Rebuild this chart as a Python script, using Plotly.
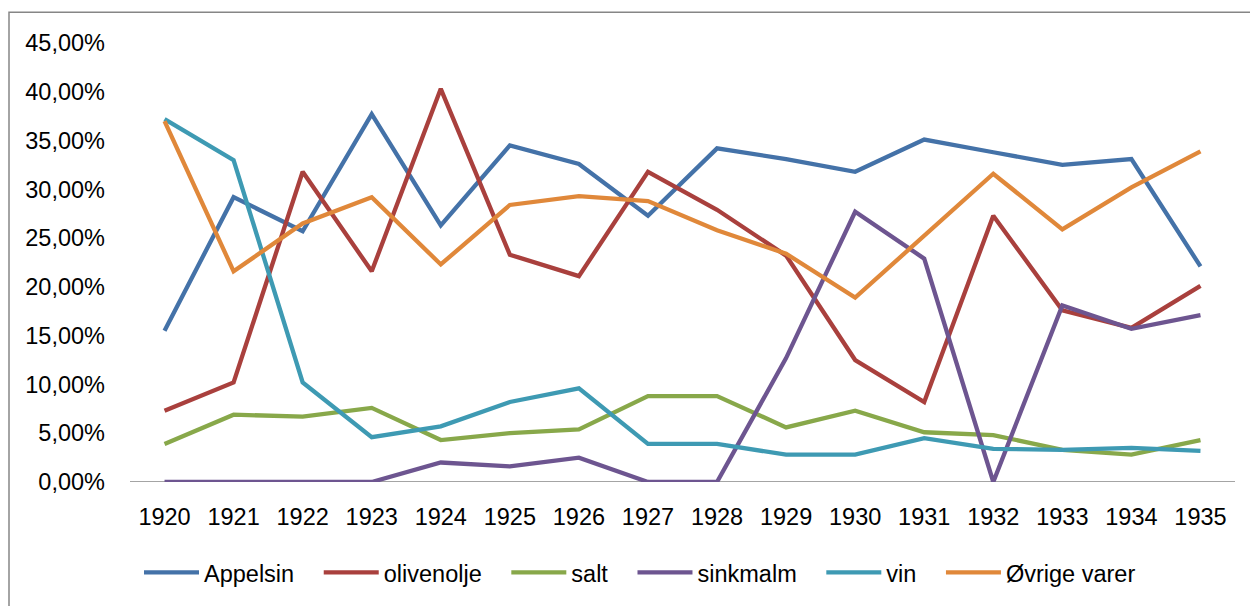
import plotly.graph_objects as go

years = [str(y) for y in range(1920, 1936)]

appelsin = [0.155, 0.292, 0.257, 0.377, 0.263, 0.345, 0.326, 0.273, 0.342, 0.331, 0.318, 0.351, 0.338, 0.325, 0.331, 0.221]
olivenolje = [0.073, 0.102, 0.318, 0.216, 0.403, 0.233, 0.211, 0.318, 0.279, 0.232, 0.125, 0.082, 0.273, 0.176, 0.158, 0.201]
salt = [0.039, 0.069, 0.067, 0.076, 0.043, 0.050, 0.054, 0.088, 0.088, 0.056, 0.073, 0.051, 0.048, 0.033, 0.028, 0.043]
sinkmalm = [0.0, 0.0, 0.0, 0.0, 0.020, 0.016, 0.025, 0.0, 0.0, 0.127, 0.277, 0.229, 0.0, 0.181, 0.157, 0.171]
vin = [0.372, 0.330, 0.102, 0.046, 0.057, 0.082, 0.096, 0.039, 0.039, 0.028, 0.028, 0.045, 0.034, 0.033, 0.035, 0.032]
ovrige = [0.370, 0.216, 0.265, 0.292, 0.223, 0.284, 0.293, 0.288, 0.258, 0.234, 0.189, 0.252, 0.316, 0.259, 0.302, 0.339]

series = [
    ("Appelsin", appelsin, "#4472A8"),
    ("olivenolje", olivenolje, "#A9403D"),
    ("salt", salt, "#88A84A"),
    ("sinkmalm", sinkmalm, "#6D5590"),
    ("vin", vin, "#3E9AB3"),
    ("Øvrige varer", ovrige, "#E0883A"),
]

fig = go.Figure()
for i, (name, vals, col) in enumerate(series):
    pad = "\u00a0" * 3 if i < len(series) - 1 else ""
    fig.add_trace(go.Scatter(
        x=years, y=vals, name=name + pad, mode="lines",
        line=dict(color=col, width=4.3),
        hovertemplate=name + ": %{y:.2%}<extra></extra>",
    ))

FONT = "Liberation Sans"
FS = 23.5
L, R, T, B = 130, 15, 43, 122
W, H = 1250, 606
pw = W - L - R
ph = H - T - B

fig.update_layout(
    width=W, height=H,
    margin=dict(l=L, r=R, t=T, b=B),
    paper_bgcolor="white", plot_bgcolor="white",
    separators=",.",
    font=dict(family=FONT, size=FS, color="#000000"),
    showlegend=True,
    legend=dict(
        orientation="h", x=(640 - L) / pw, xanchor="center",
        y=(484 - 575) / ph, yanchor="middle",
        font=dict(family=FONT, size=FS),
        itemwidth=55, tracegroupgap=0,
    ),
    xaxis=dict(
        type="category", range=[-0.5, 15.5],
        showgrid=False, showline=False, zeroline=False,
        ticks="", ticklabelstandoff=18,
        tickfont=dict(family=FONT, size=FS),
    ),
    yaxis=dict(
        range=[0, 0.45], tickvals=[i * 0.05 for i in range(10)],
        tickformat=".2%",
        showgrid=False, showline=False, zeroline=False,
        ticks="", ticklabelstandoff=24,
        tickfont=dict(family=FONT, size=FS),
    ),
    shapes=[
        dict(type="line", xref="paper", yref="y", x0=0, x1=1, y0=0, y1=0,
             line=dict(color="#868686", width=1.5), layer="below"),
        dict(type="rect", xref="paper", yref="paper",
             x0=(9 - L) / pw, x1=(1260 - L) / pw,
             y0=(484 - 620) / ph, y1=(484 - 12) / ph,
             line=dict(color="#868686", width=1.5), fillcolor="rgba(0,0,0,0)"),
    ],
)

fig.write_html(
    "out.html",
    config={"displayModeBar": False},
    post_script="document.body.style.margin='0';document.body.style.overflow='hidden';",
)
